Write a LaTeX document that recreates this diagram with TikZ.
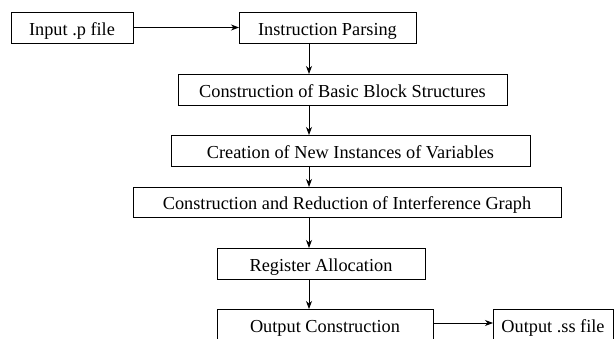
\documentclass[tikz,border=0pt]{standalone}
\usepackage{fontspec}
\setmainfont{Liberation Serif}
\usetikzlibrary{arrows.meta}
\tikzset{
  box/.style={draw, line width=0.9pt, rectangle, inner sep=0pt, outer sep=0pt,
    text height=16pt, text depth=0pt,
    font=\fontsize{18.3}{21}\selectfont},
  conn/.style={line width=0.9pt, -{Stealth[length=8pt,width=6pt,inset=2.5pt]}}
}
\begin{document}
\begin{tikzpicture}[x=1pt,y=-1pt]
\useasboundingbox (0,0) rectangle (614,339);
\node[box, minimum width=122pt, minimum height=31pt] (in) at (72,27.5) {Input .p file};
\node[box, minimum width=177pt, minimum height=31pt] (ip) at (327.5,27.5) {Instruction Parsing};
\node[box, minimum width=329pt, minimum height=31pt] (cb) at (342.5,89.5) {Construction of Basic Block Structures};
\node[box, minimum width=359pt, minimum height=31pt] (cn) at (350.5,150.5) {Creation of New Instances of Variables};
\node[box, minimum width=428pt, minimum height=30pt] (cr) at (347,202) {Construction and Reduction of Interference Graph};
\node[box, minimum width=208pt, minimum height=31pt] (ra) at (321,263.5) {Register Allocation};
\node[box, minimum width=216pt, minimum height=31pt] (oc) at (325,324.5) {Output Construction};
\node[box, minimum width=120pt, minimum height=31pt] (os) at (553,324.5) {Output .ss file};
\coordinate (ax) at (309,0);
\draw[conn] (in.east) -- (ip.west);
\draw[conn] (ip.south -| ax) -- (cb.north -| ax);
\draw[conn] (cb.south -| ax) -- (cn.north -| ax);
\draw[conn] (cn.south -| ax) -- (cr.north -| ax);
\draw[conn] (cr.south -| ax) -- (ra.north -| ax);
\draw[conn] (ra.south -| ax) -- (oc.north -| ax);
\draw[conn] (oc.east |- 0,323) -- (os.west |- 0,323);
\end{tikzpicture}
\end{document}
